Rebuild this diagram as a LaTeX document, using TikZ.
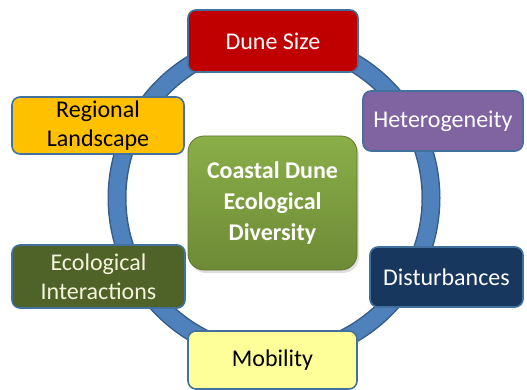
\documentclass[tikz,border=0pt]{standalone}
\usepackage{fontspec}
\setmainfont{Carlito}
\usetikzlibrary{shadows}
\definecolor{boxline}{HTML}{41719C}
\definecolor{ringblue}{HTML}{4F81BD}
\definecolor{ringline}{HTML}{385D8A}
\definecolor{dunered}{HTML}{C00000}
\definecolor{regorange}{HTML}{FFC000}
\definecolor{hetpurple}{HTML}{8064A2}
\definecolor{coregreen}{HTML}{77933C}
\definecolor{coretop}{HTML}{8AAE48}
\definecolor{corebot}{HTML}{6E8A36}
\definecolor{ecoolive}{HTML}{4F6228}
\definecolor{distnavy}{HTML}{17375E}
\definecolor{mobyellow}{HTML}{FFFF99}
\definecolor{creamtext}{HTML}{F4F4DC}
\begin{document}
\begin{tikzpicture}[x=1pt,y=-1pt,
  box/.style={draw=boxline, line width=1.6pt, rounded corners=8pt,
    align=center, inner sep=0pt,
    font=\fontsize{24}{29}\selectfont},
  corebox/.style={box, rounded corners=16pt,
    font=\fontsize{24}{31}\selectfont\bfseries,
    top color=coretop, bottom color=corebot, draw=coregreen!80!black,
    line width=0.8pt, text=white,
    drop shadow={opacity=0.25, shadow xshift=2pt, shadow yshift=-3pt}},
]
\useasboundingbox (0,0) rectangle (527,390);

% the ring linking the factors
\coordinate (hub) at (274,198);
\draw[ringline, line width=19pt] (hub) circle [radius=157pt];
\draw[ringblue, line width=16pt] (hub) circle [radius=157pt];

% factor boxes around the ring
\node[box, fill=dunered, text=white, minimum width=170pt, minimum height=62pt]
  (size) at (273,41) {Dune Size};
\node[box, fill=regorange, text=black, minimum width=172pt, minimum height=57pt]
  (region) at (98,125.5) {Regional\\Landscape};
\node[box, fill=hetpurple, text=white, minimum width=160pt, minimum height=60pt]
  (hetero) at (443,121) {Heterogeneity};
\node[box, fill=ecoolive, text=creamtext, minimum width=173pt, minimum height=63pt]
  (inter) at (98.5,276.5) {Ecological\\Interactions};
\node[box, fill=distnavy, text=white, minimum width=153pt, minimum height=60pt]
  (dist) at (446.5,277) {Disturbances};
\node[box, fill=mobyellow, text=black, minimum width=169pt, minimum height=58pt]
  (mob) at (272.5,360) {Mobility};

% central theme
\node[corebox, minimum width=169pt, minimum height=134pt]
  (core) at (272.5,203) {Coastal Dune\\Ecological\\Diversity};
\end{tikzpicture}
\end{document}
